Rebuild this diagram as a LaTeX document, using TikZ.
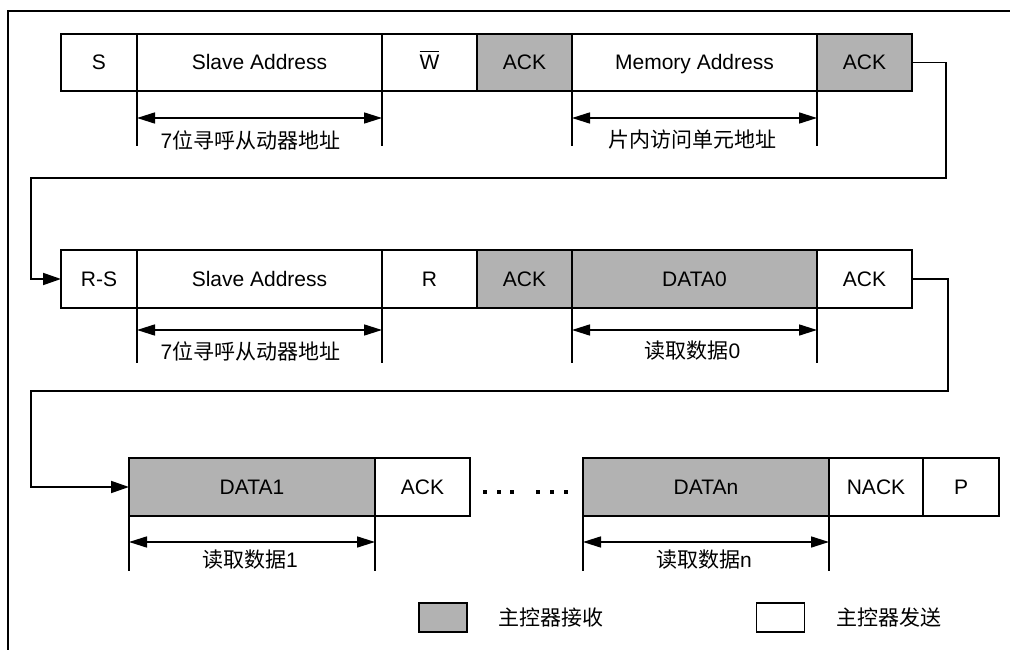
\documentclass[tikz,border=0pt]{standalone}
\usepackage{fontspec}
\setmainfont{Liberation Sans}
\newfontfamily\cjk{Noto Sans CJK SC}
\usetikzlibrary{arrows.meta,calc}
\definecolor{rxgray}{RGB}{178,178,178}
\tikzset{
  cell/.style={draw, line width=1.6pt, inner sep=0pt, outer sep=0pt, fill=white,
    text height=15pt, text depth=0pt,
    font=\fontsize{21}{25}\selectfont},
  rcv/.style={cell, fill=rxgray},
  tickline/.style={line width=1.4pt},
  dimarrow/.style={line width=1.6pt, {Triangle[length=18pt,width=11pt]}-{Triangle[length=18pt,width=11pt]}},
  lbl/.style={inner sep=0pt, font=\fontsize{21}{25}\selectfont},
  conn/.style={line width=1.8pt},
  connarrow/.style={conn, -{Triangle[length=18pt,width=12pt]}},
  legbox/.style={draw, line width=1.8pt, inner sep=0pt, outer sep=0pt, minimum width=48pt, minimum height=29pt},
}
\newcommand\dimarr[5]{%
  \draw[tickline] (#1.south west) -- ++(0,55);
  \draw[tickline] (#1.south east) -- ++(0,55);
  \draw[dimarrow] ($(#1.south west)+(0,#2)$) -- ($(#1.south east)+(0,#2)$);
  \node[lbl] (#1lbl) at ($(#1.south)+(#4,#3)$) {#5};}
\begin{document}
\begin{tikzpicture}[x=1pt,y=-1pt]
\useasboundingbox (0,0) rectangle (1010,650);
\draw[line width=1.5pt] (8,650) -- (8,11) -- (1010,11);

% Row 1
\node[cell, minimum width=76pt, minimum height=57pt] (s1) at (99,62.5) {S};
\node[cell, minimum width=245pt, minimum height=57pt] (sa1) at (259.5,62.5) {Slave Address};
\node[cell, minimum width=95pt, minimum height=57pt] (w1) at (429.5,62.5) {$\overline{\mbox{W}\rule{0pt}{17pt}}$};
\node[rcv, minimum width=95pt, minimum height=57pt] (ak1) at (524.5,62.5) {ACK};
\node[cell, minimum width=245pt, minimum height=57pt] (ma1) at (694.5,62.5) {Memory Address};
\node[rcv, minimum width=95pt, minimum height=57pt] (ak2) at (864.5,62.5) {ACK};

% Row 2
\node[cell, minimum width=76pt, minimum height=58pt] (rs) at (99,279) {R-S};
\node[cell, minimum width=245pt, minimum height=58pt] (sa2) at (259.5,279) {Slave Address};
\node[cell, minimum width=95pt, minimum height=58pt] (r2) at (429.5,279) {R};
\node[rcv, minimum width=95pt, minimum height=58pt] (ak3) at (524.5,279) {ACK};
\node[rcv, minimum width=245pt, minimum height=58pt] (d0) at (694.5,279) {DATA0};
\node[cell, minimum width=95pt, minimum height=58pt] (ak4) at (864.5,279) {ACK};

% Row 3
\node[rcv, minimum width=246pt, minimum height=58pt] (d1) at (252,487) {DATA1};
\node[cell, minimum width=95pt, minimum height=58pt] (ak5) at (422.5,487) {ACK};
\node[rcv, minimum width=246pt, minimum height=58pt] (dn) at (706,487) {DATAn};
\node[cell, minimum width=94pt, minimum height=58pt] (nk) at (876,487) {NACK};
\node[cell, minimum width=76pt, minimum height=58pt] (p) at (961,487) {P};

% dots
\foreach \dx in {485,499,512,538,552,566}
  \fill (\dx-2,490) rectangle (\dx+2,494);

% dimension arrows
\dimarr{sa1}{27}{49}{-9}{7{\cjk 位寻呼从动器地址}}
\dimarr{ma1}{27}{49}{-2}{{\cjk 片内访问单元地址}}
\dimarr{sa2}{22}{43}{-9}{7{\cjk 位寻呼从动器地址}}
\dimarr{d0}{22}{43}{-2}{{\cjk 读取数据}0}
\dimarr{d1}{26}{44}{-2}{{\cjk 读取数据}1}
\dimarr{dn}{26}{44}{-2}{{\cjk 读取数据}n}

% connectors
\coordinate (t1) at (946,178);
\coordinate (t2) at (31,178);
\draw[connarrow] (ak2.east) -| (t1) -- (t2) |- (rs.west);
\coordinate (u1) at (948,391);
\coordinate (u2) at (31,391);
\draw[connarrow] (ak4.east) -| (u1) -- (u2) |- (d1.west);

% legend
\node[legbox, fill=rxgray] (lg1) at (443,617.5) {};
\node[lbl, anchor=west] (lt1) at (498,618) {\cjk 主控器接收};
\node[legbox, fill=white] (lg2) at (780.5,617.5) {};
\node[lbl, anchor=west] (lt2) at (836,618) {\cjk 主控器发送};
\end{tikzpicture}
\end{document}
